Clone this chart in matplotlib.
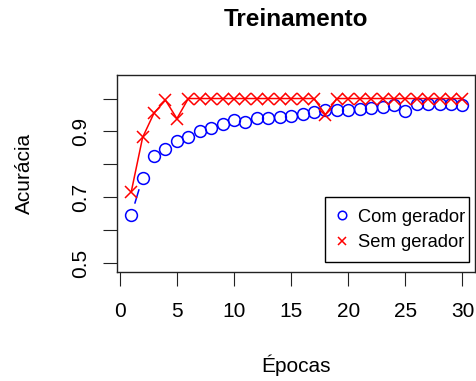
import numpy as np
import matplotlib
matplotlib.use("Agg")
import matplotlib.pyplot as plt
from matplotlib.patches import Rectangle

plt.rcParams["font.family"] = ["Liberation Sans", "DejaVu Sans"]

epocas = list(range(1, 31))
com_gerador = [0.645, 0.760, 0.825, 0.848, 0.870, 0.883, 0.902, 0.909, 0.924, 0.934,
               0.928, 0.941, 0.940, 0.944, 0.948, 0.953, 0.958, 0.964, 0.964, 0.964,
               0.968, 0.971, 0.974, 0.979, 0.961, 0.982, 0.982, 0.984, 0.984, 0.979]
sem_gerador = [0.716, 0.882, 0.956, 0.995, 0.939, 1.0, 1.0, 1.0, 1.0, 1.0,
               1.0, 1.0, 1.0, 1.0, 1.0, 1.0, 1.0, 0.951, 1.0, 1.0,
               1.0, 1.0, 1.0, 1.0, 1.0, 1.0, 1.0, 1.0, 1.0, 1.0]
xticks = [0, 5, 10, 15, 20, 25, 30]
yticks = [0.5, 0.6, 0.7, 0.8, 0.9, 1.0]
ylabels = ["0.5", "", "0.7", "", "0.9", ""]

W, H = 477, 381
fig = plt.figure(figsize=(W / 100, H / 100), dpi=100)
ax = fig.add_axes([117.5 / W, 1 - 271.5 / H, 358 / W, 197 / H])
ax.set_xlim(-0.2, 31.14)
ax.set_ylim(0.4745, 1.073)

fs = 15
ax.set_xticks(xticks)
ax.set_yticks(yticks)
ax.set_yticklabels(ylabels, rotation=90, va="center")
ax.tick_params(axis="both", length=10, width=0.8, labelsize=fs, color="#222222")
ax.tick_params(axis="x", pad=12)
ax.tick_params(axis="y", pad=10)
for s in ax.spines.values():
    s.set_linewidth(1.0)
    s.set_color("#222222")

# blue: R type "b" -> line segments with gaps around the points
ax.plot(epocas, com_gerador, "o", color="blue", mfc="none", ms=8.5, mew=1.1,
        linestyle="none", label="Com gerador")
pts = ax.transData.transform(np.column_stack([epocas, com_gerador]))
gap = 13
inv = ax.transData.inverted()
for p0, p1 in zip(pts[:-1], pts[1:]):
    d = p1 - p0
    L = np.hypot(*d)
    if L > 2 * gap:
        a = p0 + d * gap / L
        b = p1 - d * gap / L
        seg = inv.transform(np.array([a, b]))
        ax.plot(seg[:, 0], seg[:, 1], color="blue", lw=1.1)

# red: line with x markers
ax.plot(epocas, sem_gerador, color="red", lw=1.1)
ax.plot(epocas, sem_gerador, "x", color="red", ms=8.5, mew=1.1,
        linestyle="none", label="Sem gerador")

# legend box like R's (more vertical padding than matplotlib allows)
ax.add_patch(Rectangle((0.5796, 0.0467), 0.4031, 0.33, transform=ax.transAxes,
                       facecolor="white", edgecolor="black", lw=1.0, zorder=4))
leg = ax.legend(loc="center left", bbox_to_anchor=(0.605, 0.2107), borderaxespad=0,
                borderpad=0, frameon=False, fontsize=13.2, handlelength=0.83,
                handletextpad=0.49, labelspacing=0.46, markerscale=0.72)
leg.set_zorder(5)

fig.text(0.5 * (117.5 + 475.5) / W, 1 - 20 / H, "Treinamento", ha="center", va="center",
         fontsize=17.5, fontweight="bold")
fig.text(0.5 * (117.5 + 475.5) / W, 1 - 365 / H, "Épocas", ha="center", va="center", fontsize=fs)
fig.text(24 / W, 1 - 173 / H, "Acurácia", ha="center", va="center", rotation=90, fontsize=fs)

fig.savefig("out.png", dpi=100)
